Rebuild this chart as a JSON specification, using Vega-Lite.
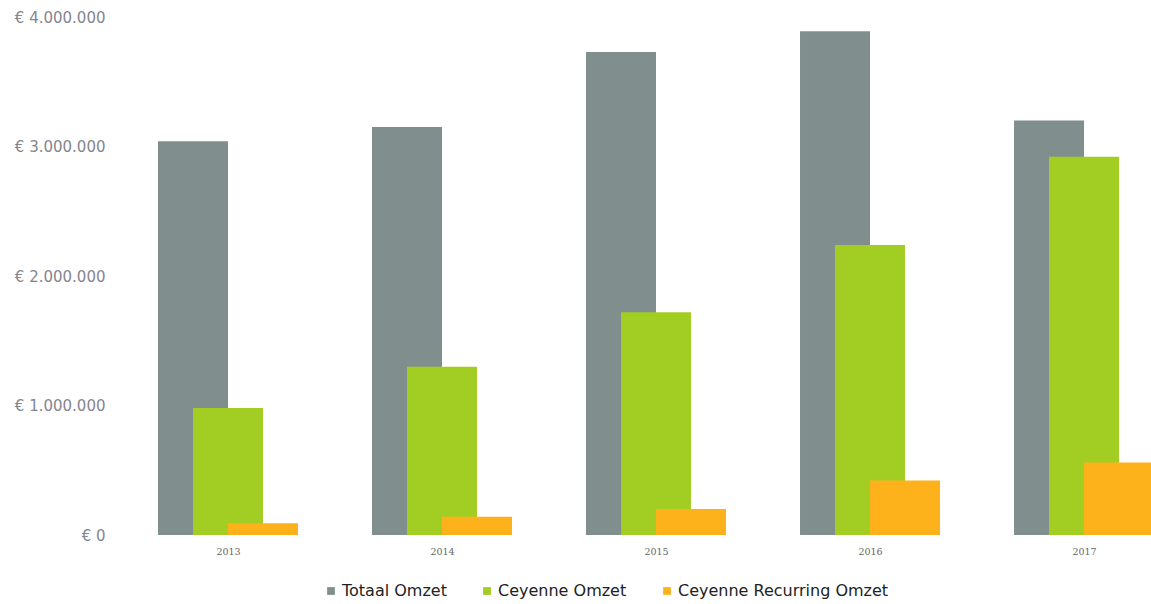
{
  "$schema": "https://vega.github.io/schema/vega-lite/v6.json",
  "autosize": {"type": "none"},
  "padding": {"left": 121, "top": 17, "right": 0, "bottom": 69},
  "width": 1030,
  "height": 518,
  "background": "white",
  "config": {
    "view": {"stroke": null},
    "locale": {"number": {"decimal": ",", "thousands": ".", "grouping": [3], "currency": ["€ ", ""]}},
    "font": "DejaVu Sans"
  },
  "data": {
    "values": [
      {"jaar": "2013", "serie": "Totaal Omzet", "omzet": 3040000},
      {"jaar": "2013", "serie": "Ceyenne Omzet", "omzet": 980000},
      {"jaar": "2013", "serie": "Ceyenne Recurring Omzet", "omzet": 90000},
      {"jaar": "2014", "serie": "Totaal Omzet", "omzet": 3150000},
      {"jaar": "2014", "serie": "Ceyenne Omzet", "omzet": 1300000},
      {"jaar": "2014", "serie": "Ceyenne Recurring Omzet", "omzet": 140000},
      {"jaar": "2015", "serie": "Totaal Omzet", "omzet": 3730000},
      {"jaar": "2015", "serie": "Ceyenne Omzet", "omzet": 1720000},
      {"jaar": "2015", "serie": "Ceyenne Recurring Omzet", "omzet": 200000},
      {"jaar": "2016", "serie": "Totaal Omzet", "omzet": 3890000},
      {"jaar": "2016", "serie": "Ceyenne Omzet", "omzet": 2240000},
      {"jaar": "2016", "serie": "Ceyenne Recurring Omzet", "omzet": 420000},
      {"jaar": "2017", "serie": "Totaal Omzet", "omzet": 3200000},
      {"jaar": "2017", "serie": "Ceyenne Omzet", "omzet": 2920000},
      {"jaar": "2017", "serie": "Ceyenne Recurring Omzet", "omzet": 560000}
    ]
  },
  "mark": {"type": "bar", "width": 70, "clip": false},
  "encoding": {
    "x": {
      "field": "jaar",
      "type": "ordinal",
      "scale": {"type": "point", "padding": 0.4065, "align": 0.615},
      "axis": {
        "title": null,
        "domain": false,
        "ticks": false,
        "labelAngle": 0,
        "labelFont": "DejaVu Serif",
        "labelFontSize": 9.5,
        "labelColor": "#666666",
        "labelPadding": 11
      }
    },
    "xOffset": {
      "field": "serie",
      "type": "nominal",
      "sort": ["Totaal Omzet", "Ceyenne Omzet", "Ceyenne Recurring Omzet"],
      "scale": {"type": "point", "padding": 0, "range": [-35, 35]}
    },
    "y": {
      "field": "omzet",
      "type": "quantitative",
      "scale": {"domain": [0, 4000000]},
      "axis": {
        "title": null,
        "domain": false,
        "ticks": false,
        "grid": false,
        "values": [0, 1000000, 2000000, 3000000, 4000000],
        "format": "$,.0f",
        "labelFontSize": 15,
        "labelColor": "#85858f",
        "labelPadding": 16
      }
    },
    "color": {
      "field": "serie",
      "type": "nominal",
      "sort": ["Totaal Omzet", "Ceyenne Omzet", "Ceyenne Recurring Omzet"],
      "scale": {
        "domain": ["Totaal Omzet", "Ceyenne Omzet", "Ceyenne Recurring Omzet"],
        "range": ["#808f8e", "#a2cd23", "#fdb21b"]
      },
      "legend": {
        "title": null,
        "orient": "none",
        "direction": "horizontal",
        "legendX": 202,
        "legendY": 566,
        "symbolType": "square",
        "symbolSize": 60,
        "labelFontSize": 16,
        "labelLimit": 400,
        "labelColor": "#222222",
        "columnPadding": 32,
        "labelOffset": 3
      }
    },
    "order": {"field": "serie", "sort": "descending"}
  }
}
